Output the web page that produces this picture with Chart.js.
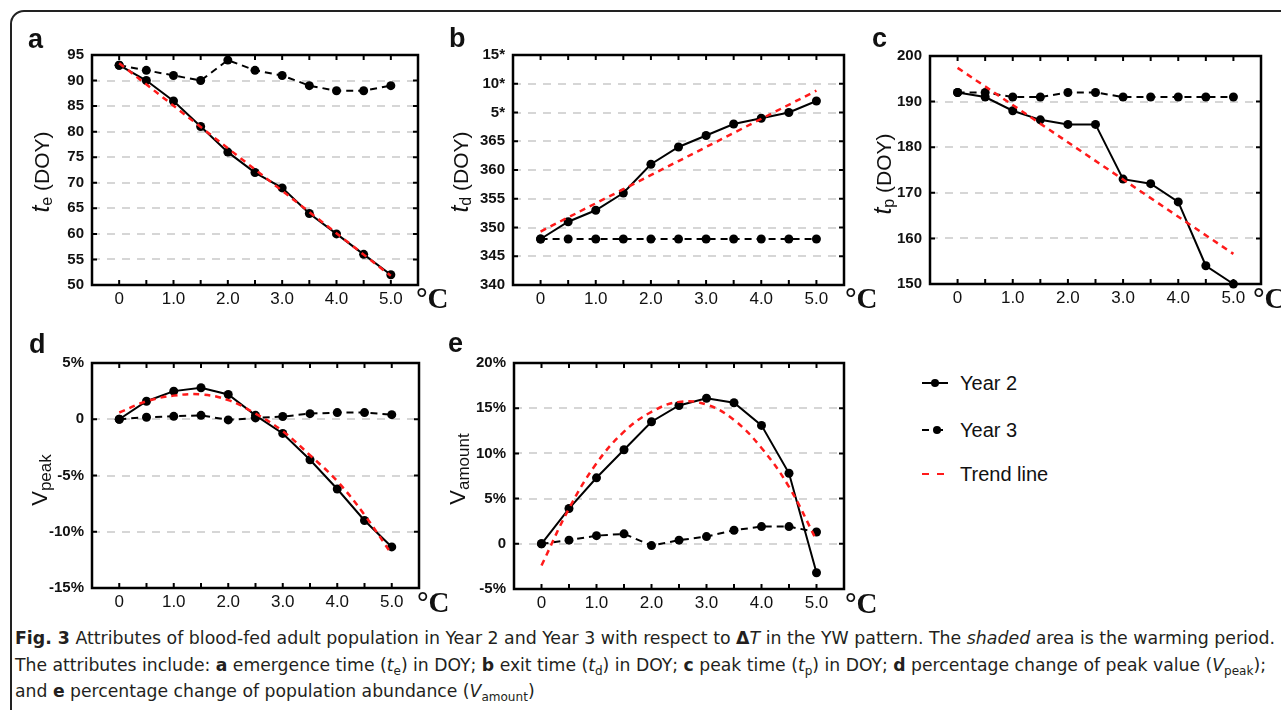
<!DOCTYPE html>
<html>
<head>
<meta charset="utf-8">
<script src="https://cdn.jsdelivr.net/npm/chart.js@4.4.1/dist/chart.umd.min.js"></script>
<style>
  html,body{margin:0;padding:0;background:#fff;}
  body{width:1281px;height:710px;overflow:hidden;position:relative;font-family:'Liberation Sans',Arial,sans-serif;color:#111;}
  #frame{position:absolute;left:10px;top:10px;width:1300px;height:730px;border:2px solid #222;border-radius:14px;box-sizing:border-box;}
  canvas{position:absolute;}
  .lab{position:absolute;font:bold 27px 'Liberation Sans',Arial,sans-serif;line-height:1;color:#111;}
  .deg{position:absolute;font:bold 29px 'Liberation Serif','Times New Roman',serif;line-height:1;color:#111;}
  .yt{position:absolute;transform:translate(-50%,-50%) rotate(-90deg);font-size:21px;white-space:nowrap;line-height:1;color:#111;}
  .yt i{font-size:25px;}
  .yt .s{font-size:16px;position:relative;top:3px;}
  .yt .v{font-size:22px;}
  .yt .vs{font-size:17px;position:relative;top:4px;}
  .leg{position:absolute;left:921px;font-size:20px;line-height:1;color:#111;}
  .leg svg{position:absolute;left:0;top:-6px;}
  .leg span{position:absolute;left:39px;top:-10px;white-space:nowrap;}
  .cap{position:absolute;left:15px;font-family:'Liberation Sans Narrow','DejaVu Sans Condensed','Open Sans',sans-serif;font-size:17px;line-height:20px;white-space:nowrap;color:#231f20;transform-origin:0 50%;}
  .cap sub{font-size:0.7em;vertical-align:-0.3em;line-height:0;}
</style>
</head>
<body>
<div id="frame"></div>
<canvas id="ca"></canvas>
<canvas id="cb"></canvas>
<canvas id="cc"></canvas>
<canvas id="cd"></canvas>
<canvas id="ce"></canvas>

<div class="lab" style="left:28px;top:26px">a</div>
<div class="lab" style="left:449px;top:25px">b</div>
<div class="lab" style="left:872px;top:25px">c</div>
<div class="lab" style="left:29px;top:331px">d</div>
<div class="lab" style="left:448px;top:330px">e</div>

<div class="deg" style="left:416px;top:284px">°C</div>
<div class="deg" style="left:845px;top:284px">°C</div>
<div class="deg" style="left:1253px;top:284px">°C</div>
<div class="deg" style="left:417px;top:588px">°C</div>
<div class="deg" style="left:845px;top:589px">°C</div>

<div class="yt" style="left:40px;top:172px"><i>t</i><span class="s">e</span> (DOY)</div>
<div class="yt" style="left:459px;top:172px"><i>t</i><span class="s">d</span> (DOY)</div>
<div class="yt" style="left:882px;top:174px"><i>t</i><span class="s">p</span> (DOY)</div>
<div class="yt" style="left:40px;top:480px"><span class="v">V</span><span class="vs">peak</span></div>
<div class="yt" style="left:458px;top:469px"><span class="v">V</span><span class="vs">amount</span></div>

<div class="leg" style="top:383px"><svg width="30" height="12"><line x1="1" y1="6" x2="27" y2="6" stroke="#000" stroke-width="2"/><circle cx="14" cy="6" r="4" fill="#000"/></svg><span>Year 2</span></div>
<div class="leg" style="top:430px"><svg width="30" height="12"><line x1="1" y1="6" x2="8" y2="6" stroke="#000" stroke-width="2"/><line x1="15" y1="6" x2="22" y2="6" stroke="#000" stroke-width="2"/><circle cx="16" cy="6" r="4" fill="#000"/></svg><span>Year 3</span></div>
<div class="leg" style="top:474px"><svg width="30" height="12"><line x1="1" y1="6" x2="8" y2="6" stroke="#ff1a1a" stroke-width="2"/><line x1="16" y1="6" x2="23" y2="6" stroke="#ff1a1a" stroke-width="2"/></svg><span>Trend line</span></div>

<div class="cap" id="cap1" style="top:628px"><b>Fig. 3</b> Attributes of blood-fed adult population in Year 2 and Year 3 with respect to <b>Δ</b><i>T</i> in the YW pattern. The <i>shaded</i> area is the warming period.</div>
<div class="cap" id="cap2" style="top:655px">The attributes include: <b>a</b> emergence time (<i>t</i><sub>e</sub>) in DOY; <b>b</b> exit time (<i>t</i><sub>d</sub>) in DOY; <b>c</b> peak time (<i>t</i><sub>p</sub>) in DOY; <b>d</b> percentage change of peak value (<i>V</i><sub>peak</sub>);</div>
<div class="cap" id="cap3" style="top:681px">and <b>e</b> percentage change of population abundance (<i>V</i><sub>amount</sub>)</div>

<script>
// ---- data ----
const xVals = [0, 0.5, 1.0, 1.5, 2.0, 2.5, 3.0, 3.5, 4.0, 4.5, 5.0];
const xTickVals = [0, 1, 2, 3, 4, 5];
const xTickLabels = ['0', '1.0', '2.0', '3.0', '4.0', '5.0'];

// a: emergence time te (DOY)
const aYear2 = [93, 90, 86, 81, 76, 72, 69, 64, 60, 56, 52];
const aYear3 = [93, 92, 91, 90, 94, 92, 91, 89, 88, 88, 89];
const aTrendX = [0, 5.0];
const aTrendY = [93.4, 51.8];
const aYTicks = [50, 55, 60, 65, 70, 75, 80, 85, 90, 95];
const aYLabels = ['50', '55', '60', '65', '70', '75', '80', '85', '90', '95'];

// b: exit time td (DOY); values above 365 roll into next year (5*, 10*, 15*)
const bYear2 = [348, 351, 353, 356, 361, 364, 366, 368, 369, 370, 372];
const bYear3 = [348, 348, 348, 348, 348, 348, 348, 348, 348, 348, 348];
const bTrendX = [0, 5.0];
const bTrendY = [349.3, 373.8];
const bYTicks = [340, 345, 350, 355, 360, 365, 370, 375, 380];
const bYLabels = ['340', '345', '350', '355', '360', '365', '5*', '10*', '15*'];

// c: peak time tp (DOY)
const cYear2 = [192, 191, 188, 186, 185, 185, 173, 172, 168, 154, 150];
const cYear3 = [192, 192, 191, 191, 192, 192, 191, 191, 191, 191, 191];
const cTrendX = [0, 5.0];
const cTrendY = [197.4, 156.6];
const cYTicks = [150, 160, 170, 180, 190, 200];
const cYLabels = ['150', '160', '170', '180', '190', '200'];

// d: Vpeak (%)
const dYear2 = [0, 1.6, 2.5, 2.8, 2.2, 0.35, -1.26, -3.6, -6.2, -9.0, -11.35];
const dYear3 = [0, 0.18, 0.26, 0.35, -0.06, 0.12, 0.24, 0.5, 0.59, 0.59, 0.41];
const dTrendX = xVals;
const dTrendY = [0.6, 1.6, 2.1, 2.2, 1.7, 0.5, -1.06, -3.2, -5.5, -8.5, -12.0];
const dYTicks = [-15, -10, -5, 0, 5];
const dYLabels = ['-15%', '-10%', '-5%', '0', '5%'];

// e: Vamount (%)
const eYear2 = [0, 3.9, 7.3, 10.4, 13.5, 15.3, 16.1, 15.6, 13.1, 7.8, -3.2];
const eYear3 = [0, 0.4, 0.9, 1.1, -0.2, 0.4, 0.8, 1.5, 1.9, 1.9, 1.3];
const eTrendX = xVals;
const eTrendY = [-2.4, 3.9, 8.9, 12.4, 14.6, 15.7, 15.4, 13.7, 10.6, 6.3, 0.4];
const eYTicks = [-5, 0, 5, 10, 15, 20];
const eYLabels = ['-5%', '0', '5%', '10%', '15%', '20%'];

// ---- drawing ----
const framePlugin = {
  id: 'frame',
  beforeDatasetsDraw(chart) {
    const {ctx, chartArea: a, scales: {x, y}} = chart;
    ctx.save();
    ctx.strokeStyle = '#000';
    ctx.lineWidth = 2.5;
    ctx.setLineDash([]);
    ctx.strokeRect(a.left, a.top, a.right - a.left, a.bottom - a.top);
    ctx.lineWidth = 2;
    ctx.beginPath();
    xVals.forEach(v => {
      const px = x.getPixelForValue(v);
      ctx.moveTo(px, a.bottom); ctx.lineTo(px, a.bottom - 5);
      ctx.moveTo(px, a.top); ctx.lineTo(px, a.top + 5);
    });
    y.ticks.forEach(t => {
      const py = y.getPixelForValue(t.value);
      ctx.moveTo(a.left, py); ctx.lineTo(a.left + 5, py);
      ctx.moveTo(a.right, py); ctx.lineTo(a.right - 5, py);
    });
    ctx.stroke();
    ctx.restore();
  }
};

function makePanel(id, area, y2, y3, tx, ty, yTicks, yLabels) {
  const padL = 80, padT = 40, padR = 20, padB = 35;
  const w = (area.R - area.L) + padL + padR;
  const h = (area.B - area.T) + padT + padB;
  const cv = document.getElementById(id);
  cv.width = w; cv.height = h;
  cv.style.left = (area.L - padL) + 'px';
  cv.style.top = (area.T - padT) + 'px';
  cv.style.width = w + 'px'; cv.style.height = h + 'px';
  const yMin = yTicks[0], yMax = yTicks[yTicks.length - 1];
  new Chart(cv, {
    type: 'line',
    data: {
      datasets: [
        {label: 'Trend line', data: tx.map((v, i) => ({x: v, y: ty[i]})),
         borderColor: '#ff1a1a', borderWidth: 2.5, borderDash: [6, 5], pointRadius: 0,
         tension: 0.4, order: 0, clip: false, fill: false},
        {label: 'Year 2', data: xVals.map((v, i) => ({x: v, y: y2[i]})),
         borderColor: '#000', backgroundColor: '#000', borderWidth: 2,
         pointRadius: 4.5, pointBorderWidth: 0, pointBackgroundColor: '#000',
         tension: 0, order: 1, clip: false, fill: false},
        {label: 'Year 3', data: xVals.map((v, i) => ({x: v, y: y3[i]})),
         borderColor: '#000', backgroundColor: '#000', borderWidth: 2, borderDash: [7, 5],
         pointRadius: 4.5, pointBorderWidth: 0, pointBackgroundColor: '#000',
         tension: 0, order: 2, clip: false, fill: false}
      ]
    },
    options: {
      responsive: false, animation: false, devicePixelRatio: 1, events: [],
      layout: {padding: {top: padT, right: padR, left: 0, bottom: 0}},
      plugins: {legend: {display: false}, tooltip: {enabled: false}},
      scales: {
        x: {
          type: 'linear', min: -0.5, max: 5.5,
          afterBuildTicks: s => { s.ticks = xTickVals.map(v => ({value: v})); },
          afterFit: s => { s.height = padB; },
          ticks: {callback: (v, i) => xTickLabels[i], font: {size: 17, family: "'Liberation Sans', Arial, sans-serif"},
                  color: '#111', padding: 4, maxRotation: 0, autoSkip: false},
          grid: {display: false, drawTicks: false},
          border: {display: false}
        },
        y: {
          type: 'linear', min: yMin, max: yMax,
          afterBuildTicks: s => { s.ticks = yTicks.map(v => ({value: v})); },
          afterFit: s => { s.width = padL; },
          ticks: {callback: (v, i) => yLabels[i], font: {size: 15, weight: 'bold', family: "'Liberation Sans', Arial, sans-serif"},
                  color: '#111', padding: 8, autoSkip: false},
          grid: {
            color: c => (c.tick && (c.tick.value === yMin || c.tick.value === yMax)) ? 'rgba(0,0,0,0)' : '#d6d6d6',
            lineWidth: 2, drawTicks: false
          },
          border: {display: false, dash: [8, 7]}
        }
      }
    },
    plugins: [framePlugin]
  });
}

makePanel('ca', {L: 92, T: 55, R: 418, B: 285}, aYear2, aYear3, aTrendX, aTrendY, aYTicks, aYLabels);
makePanel('cb', {L: 513, T: 55, R: 844, B: 285}, bYear2, bYear3, bTrendX, bTrendY, bYTicks, bYLabels);
makePanel('cc', {L: 930, T: 56, R: 1261, B: 284}, cYear2, cYear3, cTrendX, cTrendY, cYTicks, cYLabels);
makePanel('cd', {L: 92, T: 363, R: 419, B: 588}, dYear2, dYear3, dTrendX, dTrendY, dYTicks, dYLabels);
makePanel('ce', {L: 514, T: 363, R: 844, B: 589}, eYear2, eYear3, eTrendX, eTrendY, eYTicks, eYLabels);

// fit caption lines to the reference widths
function fit(id, target) {
  const el = document.getElementById(id);
  const w = el.getBoundingClientRect().width;
  const s = target / w;
  el.style.transform = 'scaleX(' + s + ')';
  return s;
}
fit('cap1', 1260);
const s2 = fit('cap2', 1251);
document.getElementById('cap3').style.transform = 'scaleX(' + s2 + ')';
</script>
</body>
</html>
